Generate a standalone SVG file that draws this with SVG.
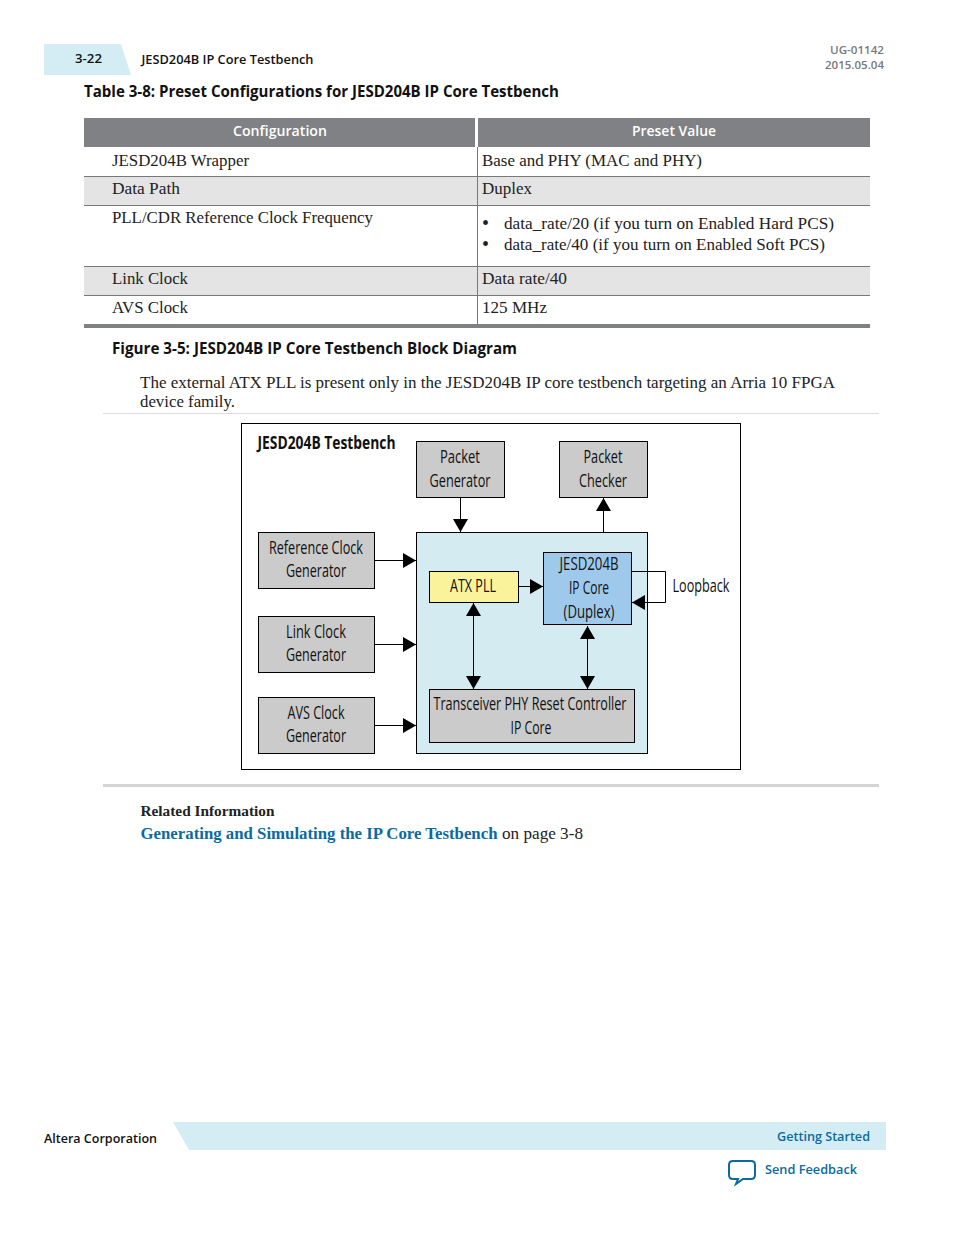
<svg xmlns="http://www.w3.org/2000/svg" width="954" height="1235" viewBox="0 0 954 1235">
<defs>
<marker id="ah" markerUnits="userSpaceOnUse" markerWidth="14" markerHeight="15" refX="13" refY="7.5" orient="auto-start-reverse"><path d="M0,0 L13,7.5 L0,15 Z" fill="#000"/></marker>
</defs>
<style>
.s{font-family:"Open Sans","Noto Sans",sans-serif;font-weight:600;fill:#111}
.t{font-weight:700}
.r{font-family:"Liberation Serif",serif;font-size:17px;fill:#222}
.h{font-family:"Open Sans",sans-serif;font-weight:600;font-size:14px;fill:#fff;text-anchor:middle}
.d{font-family:"Open Sans","Noto Sans",sans-serif;font-size:18px;fill:#111;text-anchor:middle}
.b{stroke:#000;stroke-width:1}
.gr{fill:#cbcbcb}
.c{fill:none;stroke:#000;stroke-width:1}
.l{stroke:#77787b;stroke-width:1}
</style>
<rect width="954" height="1235" fill="#fff"/>
<g id="header">
<path d="M44,44 H121 L131,75 H44 Z" fill="#d4edf5"/>
<text class="s" x="75" y="63" font-size="13" textLength="27" lengthAdjust="spacingAndGlyphs">3-22</text>
<text class="s" x="141.500" y="64" font-size="13" textLength="172" lengthAdjust="spacingAndGlyphs">JESD204B IP Core Testbench</text>
<text class="s" x="884" y="54" font-size="11.500" text-anchor="end" style="fill:#77787b" textLength="54" lengthAdjust="spacingAndGlyphs">UG-01142</text>
<text class="s" x="884" y="69" font-size="11.500" text-anchor="end" style="fill:#77787b" textLength="59" lengthAdjust="spacingAndGlyphs">2015.05.04</text>
<text class="s t" x="84" y="97" font-size="15.500" textLength="475" lengthAdjust="spacingAndGlyphs">Table 3-8: Preset Configurations for JESD204B IP Core Testbench</text>
</g>
<g id="table">
<rect x="84" y="118" width="391" height="29" fill="#808184"/>
<rect x="478" y="118" width="392" height="29" fill="#808184"/>
<text class="h" x="280" y="136" textLength="94" lengthAdjust="spacingAndGlyphs">Configuration</text>
<text class="h" x="674" y="136" textLength="84" lengthAdjust="spacingAndGlyphs">Preset Value</text>
<rect x="84" y="177" width="786" height="29" fill="#e4e4e4"/>
<rect x="84" y="267" width="786" height="29" fill="#e4e4e4"/>
<path class="l" d="M84,176.500 H870 M84,205.500 H870 M84,266.500 H870 M84,295.500 H870 M477.500,147 V324"/>
<rect x="84" y="324" width="786" height="4" fill="#808184"/>
<text class="r" x="112" y="166" textLength="137" lengthAdjust="spacingAndGlyphs">JESD204B Wrapper</text>
<text class="r" x="482" y="166" textLength="220" lengthAdjust="spacingAndGlyphs">Base and PHY (MAC and PHY)</text>
<text class="r" x="112" y="194" textLength="68" lengthAdjust="spacingAndGlyphs">Data Path</text>
<text class="r" x="482" y="194" textLength="50" lengthAdjust="spacingAndGlyphs">Duplex</text>
<text class="r" x="112" y="223" textLength="261" lengthAdjust="spacingAndGlyphs">PLL/CDR Reference Clock Frequency</text>
<text class="r" x="482" y="230" style="font-size:20px">•</text>
<text class="r" x="504" y="229" textLength="330" lengthAdjust="spacingAndGlyphs">data_rate/20 (if you turn on Enabled Hard PCS)</text>
<text class="r" x="482" y="251" style="font-size:20px">•</text>
<text class="r" x="504" y="250" textLength="321" lengthAdjust="spacingAndGlyphs">data_rate/40 (if you turn on Enabled Soft PCS)</text>
<text class="r" x="112" y="284" textLength="76" lengthAdjust="spacingAndGlyphs">Link Clock</text>
<text class="r" x="482" y="284" textLength="85" lengthAdjust="spacingAndGlyphs">Data rate/40</text>
<text class="r" x="112" y="313" textLength="76" lengthAdjust="spacingAndGlyphs">AVS Clock</text>
<text class="r" x="482" y="313" textLength="65" lengthAdjust="spacingAndGlyphs">125 MHz</text>
</g>
<g id="caption">
<text class="s t" x="112" y="354" font-size="15.500" textLength="405" lengthAdjust="spacingAndGlyphs">Figure 3-5: JESD204B IP Core Testbench Block Diagram</text>
<text class="r" x="140" y="388" textLength="695" lengthAdjust="spacingAndGlyphs">The external ATX PLL is present only in the JESD204B IP core testbench targeting an Arria 10 FPGA</text>
<text class="r" x="140" y="407" textLength="95" lengthAdjust="spacingAndGlyphs">device family.</text>
<rect x="103" y="413" width="776" height="1" fill="#dcdcdc"/>
</g>
<g id="testbench">
<rect x="241.500" y="423.500" width="499" height="346" fill="#fff" class="b"/>
<text class="s" x="257.500" y="449" font-size="18" textLength="138" lengthAdjust="spacingAndGlyphs" style="font-weight:700">JESD204B Testbench</text>
</g>
<g id="fpga"><rect x="416.500" y="532.500" width="231" height="221" fill="#d4ebf2" class="b"/></g>
<g id="packet-generator"><rect x="416.500" y="441.500" width="88" height="56" class="b gr"/>
<text class="d" x="460" y="463" textLength="40" lengthAdjust="spacingAndGlyphs">Packet</text>
<text class="d" x="460" y="487" textLength="61" lengthAdjust="spacingAndGlyphs">Generator</text></g>
<g id="packet-checker"><rect x="559.500" y="441.500" width="88" height="56" class="b gr"/>
<text class="d" x="603" y="463" textLength="39" lengthAdjust="spacingAndGlyphs">Packet</text>
<text class="d" x="603" y="487" textLength="48" lengthAdjust="spacingAndGlyphs">Checker</text></g>
<g id="reference-clock"><rect x="258.500" y="532.500" width="116" height="56" class="b gr"/>
<text class="d" x="316" y="554" textLength="94" lengthAdjust="spacingAndGlyphs">Reference Clock</text>
<text class="d" x="316" y="577" textLength="60" lengthAdjust="spacingAndGlyphs">Generator</text></g>
<g id="link-clock"><rect x="258.500" y="616.500" width="116" height="56" class="b gr"/>
<text class="d" x="316" y="638" textLength="60" lengthAdjust="spacingAndGlyphs">Link Clock</text>
<text class="d" x="316" y="661" textLength="60" lengthAdjust="spacingAndGlyphs">Generator</text></g>
<g id="avs-clock"><rect x="258.500" y="697.500" width="116" height="56" class="b gr"/>
<text class="d" x="316" y="719" textLength="57" lengthAdjust="spacingAndGlyphs">AVS Clock</text>
<text class="d" x="316" y="742" textLength="60" lengthAdjust="spacingAndGlyphs">Generator</text></g>
<g id="atx-pll"><rect x="429.500" y="571.500" width="89" height="31" fill="#fbf39c" class="b"/>
<text class="d" x="473" y="592" textLength="46" lengthAdjust="spacingAndGlyphs">ATX PLL</text></g>
<g id="ip-core"><rect x="543.500" y="552.500" width="88" height="72" fill="#9fc9ea" class="b"/>
<text class="d" x="589" y="570" textLength="59" lengthAdjust="spacingAndGlyphs">JESD204B</text>
<text class="d" x="589" y="594" textLength="40" lengthAdjust="spacingAndGlyphs">IP Core</text>
<text class="d" x="589" y="618" textLength="51" lengthAdjust="spacingAndGlyphs">(Duplex)</text></g>
<g id="reset-controller"><rect x="429.500" y="689.500" width="205" height="53" class="b gr"/>
<text class="d" x="530" y="710" textLength="193" lengthAdjust="spacingAndGlyphs">Transceiver PHY Reset Controller</text>
<text class="d" x="531" y="734" textLength="41" lengthAdjust="spacingAndGlyphs">IP Core</text></g>
<text class="d" id="loopback-label" x="701" y="592" textLength="57" lengthAdjust="spacingAndGlyphs">Loopback</text>
<g id="connectors">
<path class="c" marker-end="url(#ah)" d="M460.500,498 V532"/>
<path class="c" marker-end="url(#ah)" d="M603.500,532 V498"/>
<path class="c" marker-end="url(#ah)" d="M375,560.500 H416"/>
<path class="c" marker-end="url(#ah)" d="M375,644.500 H416"/>
<path class="c" marker-end="url(#ah)" d="M375,725.500 H416"/>
<path class="c" marker-end="url(#ah)" d="M519,586.500 H543"/>
<path class="c" marker-end="url(#ah)" d="M632,571.500 H665.500 V602.500 H632"/>
<path class="c" marker-start="url(#ah)" marker-end="url(#ah)" d="M473.500,603 V689"/>
<path class="c" marker-start="url(#ah)" marker-end="url(#ah)" d="M587.500,626 V689"/>
</g>
<g id="related">
<rect x="103" y="784" width="776" height="3" fill="#d4d4d4"/>
<text class="r" x="140.500" y="816" style="font-weight:700;font-size:15px" textLength="134" lengthAdjust="spacingAndGlyphs">Related Information</text>
<text class="r" x="140.500" y="839" style="font-weight:700;fill:#0a6aa1;font-size:17px" textLength="357" lengthAdjust="spacingAndGlyphs">Generating and Simulating the IP Core Testbench</text>
<text class="r" x="502" y="839" textLength="81" lengthAdjust="spacingAndGlyphs">on page 3-8</text>
</g>
<g id="footer">
<path d="M173,1122 H886 V1150 H189 Z" fill="#d4edf5"/>
<text class="s" x="44" y="1143" font-size="13" textLength="113" lengthAdjust="spacingAndGlyphs">Altera Corporation</text>
<text class="s" x="870" y="1141" font-size="13" text-anchor="end" style="fill:#0a6aa1" textLength="93" lengthAdjust="spacingAndGlyphs">Getting Started</text>
<path d="M733,1161 H751 Q755,1161 755,1165 V1175 Q755,1179 751,1179 H743 L736,1184 L738,1179 H733 Q729,1179 729,1175 V1165 Q729,1161 733,1161 Z" fill="#fff" stroke="#0a6aa1" stroke-width="2"/>
<text class="s" x="765" y="1174" font-size="13" style="fill:#0a6aa1" textLength="92" lengthAdjust="spacingAndGlyphs">Send Feedback</text>
</g>
</svg>
